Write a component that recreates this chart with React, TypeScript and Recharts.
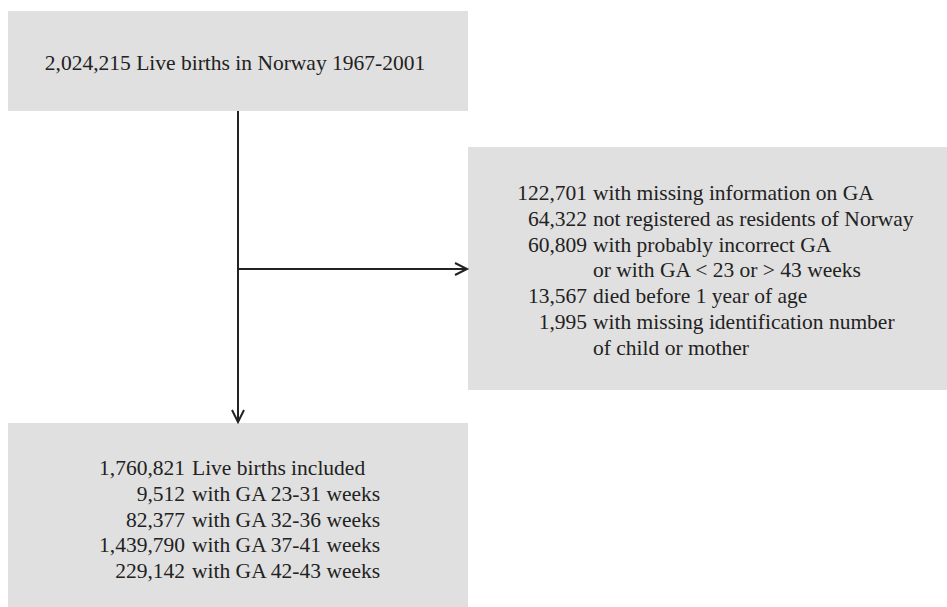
import { ComposedChart, XAxis, YAxis, ReferenceArea, ReferenceLine } from "recharts";

// counts and labels
const sourceCount = 2024215;
const sourceLabel = "Live births in Norway 1967-2001";

const excludedCounts = [122701, 64322, 60809, 13567, 1995];
const excludedLabels = [
  ["with missing information on GA"],
  ["not registered as residents of Norway"],
  ["with probably incorrect GA", "or with GA < 23 or > 43 weeks"],
  ["died before 1 year of age"],
  ["with missing identification number", "of child or mother"],
];

const includedCount = 1760821;
const includedLabel = "Live births included";
const gaGroups = ["23-31", "32-36", "37-41", "42-43"];
const gaCounts = [9512, 82377, 1439790, 229142];

// layout (chart units = pixels, y axis reversed)
const W = 947;
const H = 607;
const topBox = { x1: 8, x2: 468, y1: 11, y2: 111 };
const sideBox = { x1: 468, x2: 947, y1: 147, y2: 390 };
const bottomBox = { x1: 8, x2: 468, y1: 423, y2: 607 };
const trunkX = 238;
const branchY = 269;

const BOX_FILL = "#e0e0e0";
const INK = "#222";
const FONT = "'Liberation Serif', 'Times New Roman', serif";
const FONT_SIZE = 21.5;
const LINE_H = 25.8;

const fmt = (n: number) => n.toLocaleString("en-US");

type Row = { num?: string; text: string };

const excludedRows: Row[] = excludedCounts.flatMap((c, i) =>
  excludedLabels[i].map((t, j) => ({ num: j === 0 ? fmt(c) : undefined, text: t }))
);

const includedRows: Row[] = [
  { num: fmt(includedCount), text: includedLabel },
  ...gaCounts.map((c, i) => ({ num: fmt(c), text: `with GA ${gaGroups[i]} weeks` })),
];

function RowsLabel({ viewBox, rows, numRight, textLeft, firstBase }: any) {
  const { x, y } = viewBox;
  return (
    <g fontFamily={FONT} fontSize={FONT_SIZE} fill={INK}>
      {rows.map((r: Row, i: number) => (
        <g key={i}>
          {r.num && (
            <text x={x + numRight} y={y + firstBase + i * LINE_H} textAnchor="end">
              {r.num}
            </text>
          )}
          <text x={x + textLeft} y={y + firstBase + i * LINE_H}>
            {r.text}
          </text>
        </g>
      ))}
    </g>
  );
}

function Arrow(props: any) {
  const { x1, y1, x2, y2 } = props;
  const dx = x2 - x1;
  const dy = y2 - y1;
  const len = Math.hypot(dx, dy) || 1;
  const ux = dx / len;
  const uy = dy / len;
  const head = 12;
  const half = 6;
  const bx = x2 - ux * head;
  const by = y2 - uy * head;
  const pts = `${bx - uy * half},${by + ux * half} ${x2},${y2} ${bx + uy * half},${by - ux * half}`;
  return (
    <g>
      <line x1={x1} y1={y1} x2={x2} y2={y2} stroke={INK} strokeWidth={2} />
      <polyline points={pts} fill="none" stroke={INK} strokeWidth={2} />
    </g>
  );
}

export default function App() {
  return (
    <div style={{ position: "absolute", left: 0, top: 0, background: "#fff" }}>
      <ComposedChart width={W} height={H} data={[]} margin={{ top: 0, right: 0, bottom: 0, left: 0 }}>
        <XAxis type="number" dataKey="x" domain={[0, W]} hide allowDataOverflow />
        <YAxis type="number" dataKey="y" domain={[0, H]} reversed hide allowDataOverflow />

        <ReferenceArea
          {...topBox}
          fill={BOX_FILL}
          fillOpacity={1}
          ifOverflow="visible"
          label={(p: any) => (
            <text
              x={p.viewBox.x + 227}
              y={p.viewBox.y + 59}
              textAnchor="middle"
              fontFamily={FONT}
              fontSize={FONT_SIZE}
              fill={INK}
            >
              {`${fmt(sourceCount)} ${sourceLabel}`}
            </text>
          )}
        />
        <ReferenceArea
          {...sideBox}
          fill={BOX_FILL}
          fillOpacity={1}
          ifOverflow="visible"
          label={(p: any) => (
            <RowsLabel viewBox={p.viewBox} rows={excludedRows} numRight={119} textLeft={125} firstBase={53} />
          )}
        />
        <ReferenceArea
          {...bottomBox}
          fill={BOX_FILL}
          fillOpacity={1}
          ifOverflow="visible"
          label={(p: any) => (
            <RowsLabel viewBox={p.viewBox} rows={includedRows} numRight={177} textLeft={184} firstBase={52} />
          )}
        />

        <ReferenceLine
          segment={[
            { x: trunkX, y: topBox.y2 },
            { x: trunkX, y: bottomBox.y1 - 1 },
          ]}
          ifOverflow="visible"
          shape={Arrow}
        />
        <ReferenceLine
          segment={[
            { x: trunkX, y: branchY },
            { x: sideBox.x1 - 1, y: branchY },
          ]}
          ifOverflow="visible"
          shape={Arrow}
        />
      </ComposedChart>
    </div>
  );
}
